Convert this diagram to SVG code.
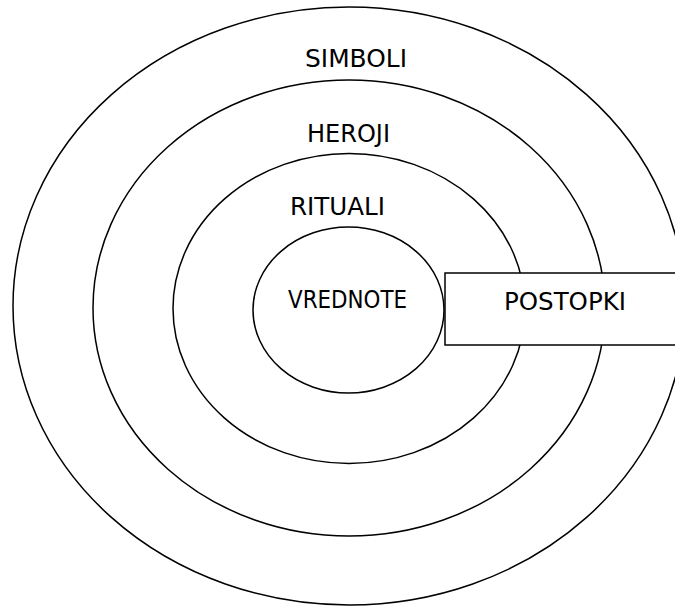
<svg xmlns="http://www.w3.org/2000/svg" width="675" height="607" viewBox="0 0 675 607">
<style>
.ring{fill:none;stroke:#000;stroke-width:1.5}
.lbl{font-family:"DejaVu Sans",Verdana,sans-serif;font-size:25px;fill:#000}
</style>
<rect width="675" height="607" fill="#fff"/>
<g id="simboli">
<ellipse class="ring" cx="349" cy="306" rx="336" ry="299"/>
<text class="lbl" x="305" y="67" textLength="102" lengthAdjust="spacingAndGlyphs">SIMBOLI</text>
</g>
<g id="heroji">
<ellipse class="ring" cx="349" cy="308" rx="256" ry="228"/>
<text class="lbl" x="307" y="142" textLength="83" lengthAdjust="spacingAndGlyphs">HEROJI</text>
</g>
<g id="rituali">
<ellipse class="ring" cx="349" cy="308.5" rx="176" ry="155"/>
<text class="lbl" x="290" y="215" textLength="95" lengthAdjust="spacingAndGlyphs">RITUALI</text>
</g>
<g id="vrednote">
<ellipse class="ring" cx="348.5" cy="310" rx="95.5" ry="83"/>
<text class="lbl" x="288" y="308" textLength="119" lengthAdjust="spacingAndGlyphs">VREDNOTE</text>
</g>
<g id="postopki">
<rect x="445" y="273" width="240" height="72" fill="#fff" stroke="#000" stroke-width="1.5"/>
<text class="lbl" x="504" y="310" textLength="122" lengthAdjust="spacingAndGlyphs">POSTOPKI</text>
</g>
<g id="connectors"/>
</svg>
